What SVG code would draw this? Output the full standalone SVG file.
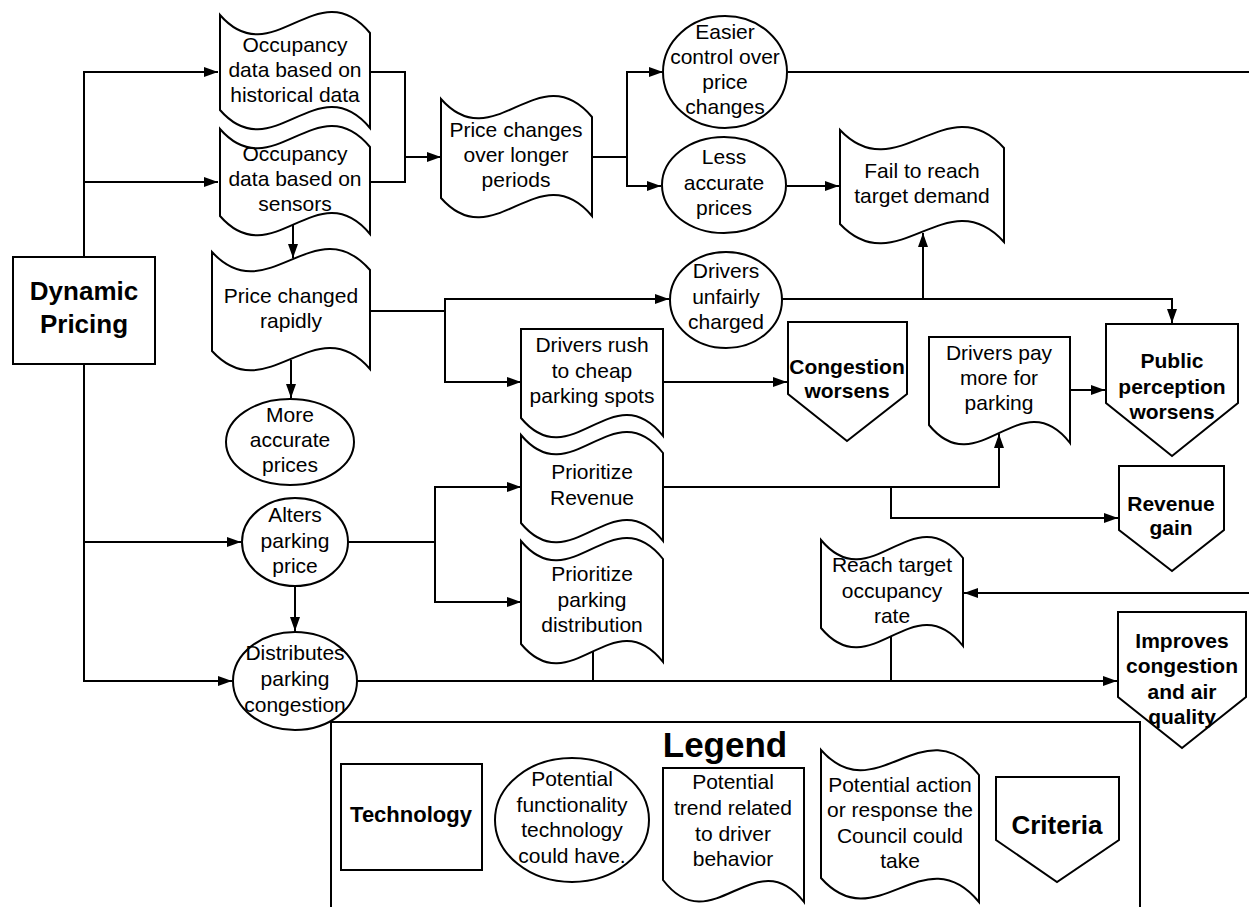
<svg xmlns="http://www.w3.org/2000/svg" width="1249" height="907" viewBox="0 0 1249 907">
  <style>
    .shape { fill: #ffffff; stroke: #000000; stroke-width: 2; }
    .wire { fill: none; stroke: #000000; stroke-width: 2; }
    .arrow { marker-end: url(#head); }
    text { font-family: "Liberation Sans", Arial, sans-serif; font-size: 21px; fill: #000000; text-anchor: middle; }
    .b { font-weight: bold; }
  </style>
  <defs>
    <marker id="head" markerUnits="userSpaceOnUse" markerWidth="14" markerHeight="10" refX="14" refY="5" orient="auto">
      <path d="M0,0 L14,5 L0,10 z" fill="#000000"/>
    </marker>
  </defs>
  <rect width="1249" height="907" fill="#ffffff"/>

  <!-- connectors -->
  <g id="connectors">
    <path class="wire arrow" d="M84,257 L84,72 L218,72"/>
    <path class="wire arrow" d="M84,182 L218,182"/>
    <path class="wire arrow" d="M84,364 L84,681 L232,681"/>
    <path class="wire arrow" d="M84,542 L241,542"/>
    <path class="wire" d="M370,72 L405,72 L405,182 L370,182"/>
    <path class="wire arrow" d="M405,157 L441,157"/>
    <path class="wire arrow" d="M293,224 L293,258"/>
    <path class="wire arrow" d="M592,157 L627,157 L627,72 L663,72"/>
    <path class="wire arrow" d="M627,157 L627,186 L661,186"/>
    <path class="wire" d="M788,72 L1249,72"/>
    <path class="wire arrow" d="M787,186 L839,186"/>
    <path class="wire" d="M370,311 L445,311"/>
    <path class="wire arrow" d="M445,311 L445,299 L669,299"/>
    <path class="wire arrow" d="M445,311 L445,382 L521,382"/>
    <path class="wire arrow" d="M291,360 L291,398"/>
    <path class="wire arrow" d="M782,299 L1172,299 L1172,323"/>
    <path class="wire arrow" d="M923,299 L923,233"/>
    <path class="wire arrow" d="M663,382 L787,382"/>
    <path class="wire arrow" d="M1070,390 L1105,390"/>
    <path class="wire arrow" d="M663,487 L999,487 L999,434"/>
    <path class="wire arrow" d="M891,487 L891,518 L1118,518"/>
    <path class="wire arrow" d="M295,586 L295,631"/>
    <path class="wire" d="M348,542 L435,542"/>
    <path class="wire arrow" d="M435,542 L435,487 L521,487"/>
    <path class="wire arrow" d="M435,542 L435,602 L521,602"/>
    <path class="wire arrow" d="M357,681 L1117,681"/>
    <path class="wire" d="M593,650 L593,681"/>
    <path class="wire" d="M891,634 L891,681"/>
    <path class="wire arrow" d="M1249,593 L964,593"/>
  </g>

  <!-- technology -->
  <g id="dynamic-pricing">
    <rect class="shape" x="13" y="257" width="142" height="107"/>
    <text class="b" x="84" y="300" style="font-size:26px">Dynamic</text>
    <text class="b" x="84" y="333" style="font-size:26px">Pricing</text>
  </g>

  <!-- council actions (tape shapes) -->
  <g id="occupancy-historical">
    <path class="shape" d="M220,15 C272.5,75 317.5,-30 370,33 L370,128 C317.5,65 272.5,170 220,110 Z"/>
    <text x="295" y="52">Occupancy</text>
    <text x="295" y="77">data based on</text>
    <text x="295" y="102">historical data</text>
  </g>
  <g id="occupancy-sensors">
    <path class="shape" d="M220,129 C272.5,189 317.5,84 370,147 L370,234 C317.5,171 272.5,276 220,216 Z"/>
    <text x="295" y="161">Occupancy</text>
    <text x="295" y="186">data based on</text>
    <text x="295" y="211">sensors</text>
  </g>
  <g id="price-longer">
    <path class="shape" d="M441,99 C494,159 539,54 592,117 L592,216 C539,153 494,258 441,198 Z"/>
    <text x="516" y="137">Price changes</text>
    <text x="516" y="162">over longer</text>
    <text x="516" y="187">periods</text>
  </g>
  <g id="price-rapidly">
    <path class="shape" d="M212,252 C267,312 315,207 370,270 L370,369 C315,306 267,411 212,351 Z"/>
    <text x="291" y="303">Price changed</text>
    <text x="291" y="328">rapidly</text>
  </g>
  <g id="prioritize-revenue">
    <path class="shape" d="M521,435 C571,495 613,390 663,453 L663,541 C613,478 571,583 521,523 Z"/>
    <text x="592" y="479">Prioritize</text>
    <text x="592" y="505">Revenue</text>
  </g>
  <g id="prioritize-distribution">
    <path class="shape" d="M521,541 C571,601 613,496 663,559 L663,662 C613,599 571,704 521,644 Z"/>
    <text x="592" y="581">Prioritize</text>
    <text x="592" y="607">parking</text>
    <text x="592" y="632">distribution</text>
  </g>
  <g id="reach-target">
    <path class="shape" d="M821,540 C871,600 913,495 963,558 L963,646 C913,583 871,688 821,628 Z"/>
    <text x="892" y="572">Reach target</text>
    <text x="892" y="598">occupancy</text>
    <text x="892" y="623">rate</text>
  </g>

  <!-- functionality (ellipses) -->
  <g id="easier-control">
    <ellipse class="shape" cx="725" cy="72" rx="62" ry="56"/>
    <text x="725" y="39">Easier</text>
    <text x="725" y="64">control over</text>
    <text x="725" y="89">price</text>
    <text x="725" y="114">changes</text>
  </g>
  <g id="less-accurate">
    <ellipse class="shape" cx="724" cy="185" rx="62" ry="48"/>
    <text x="724" y="164">Less</text>
    <text x="724" y="190">accurate</text>
    <text x="724" y="215">prices</text>
  </g>
  <g id="more-accurate">
    <ellipse class="shape" cx="290" cy="442" rx="64" ry="43"/>
    <text x="290" y="422">More</text>
    <text x="290" y="447">accurate</text>
    <text x="290" y="472">prices</text>
  </g>
  <g id="drivers-unfairly">
    <ellipse class="shape" cx="726" cy="300" rx="56" ry="48"/>
    <text x="726" y="278">Drivers</text>
    <text x="726" y="304">unfairly</text>
    <text x="726" y="329">charged</text>
  </g>
  <g id="alters-price">
    <ellipse class="shape" cx="295" cy="542" rx="53" ry="44"/>
    <text x="295" y="522">Alters</text>
    <text x="295" y="548">parking</text>
    <text x="295" y="573">price</text>
  </g>
  <g id="distributes-congestion">
    <ellipse class="shape" cx="295" cy="681" rx="62" ry="49"/>
    <text x="295" y="660">Distributes</text>
    <text x="295" y="686">parking</text>
    <text x="295" y="712">congestion</text>
  </g>

  <!-- driver trends (document shapes) -->
  <g id="fail-target">
    <path class="shape" d="M840,130 C897,190 947,85 1004,148 L1004,242 C947,179 897,284 840,224 Z"/>
    <text x="922" y="178">Fail to reach</text>
    <text x="922" y="203">target demand</text>
  </g>
  <g id="drivers-rush">
    <path class="shape" d="M521,329 L663,329 L663,436 C613,373 571,478 521,418 Z"/>
    <text x="592" y="352">Drivers rush</text>
    <text x="592" y="378">to cheap</text>
    <text x="592" y="403">parking spots</text>
  </g>
  <g id="drivers-pay">
    <path class="shape" d="M929,337 L1070,337 L1070,443 C1021,380 978,485 929,425 Z"/>
    <text x="999" y="360">Drivers pay</text>
    <text x="999" y="385">more for</text>
    <text x="999" y="410">parking</text>
  </g>

  <!-- criteria (pentagons) -->
  <g id="congestion-worsens">
    <path class="shape" d="M788,322 L907,322 L907,394 L847,441 L788,394 Z"/>
    <text class="b" x="847" y="374">Congestion</text>
    <text class="b" x="847" y="398">worsens</text>
  </g>
  <g id="public-perception">
    <path class="shape" d="M1106,324 L1238,324 L1238,403 L1172,456 L1106,403 Z"/>
    <text class="b" x="1172" y="368">Public</text>
    <text class="b" x="1172" y="394">perception</text>
    <text class="b" x="1172" y="419">worsens</text>
  </g>
  <g id="revenue-gain">
    <path class="shape" d="M1119,466 L1224,466 L1224,530 L1172,571 L1119,530 Z"/>
    <text class="b" x="1171" y="511">Revenue</text>
    <text class="b" x="1171" y="535">gain</text>
  </g>
  <g id="improves-congestion">
    <path class="shape" d="M1118,612 L1246,612 L1246,697 L1182,748 L1118,697 Z"/>
    <text class="b" x="1182" y="648">Improves</text>
    <text class="b" x="1182" y="673">congestion</text>
    <text class="b" x="1182" y="699">and air</text>
    <text class="b" x="1182" y="724">quality</text>
  </g>

  <!-- legend -->
  <g id="legend">
    <rect class="shape" x="331" y="722" width="809" height="200"/>
    <text class="b" x="725" y="757" style="font-size:35px">Legend</text>
    <rect class="shape" x="341" y="764" width="141" height="106"/>
    <text class="b" x="411" y="822" style="font-size:22px">Technology</text>
    <ellipse class="shape" cx="572" cy="820" rx="77" ry="62"/>
    <text x="572" y="786">Potential</text>
    <text x="572" y="812">functionality</text>
    <text x="572" y="837">technology</text>
    <text x="572" y="863">could have.</text>
    <path class="shape" d="M663,768 L804,768 L804,902 C755,839 712,944 663,880 Z"/>
    <text x="733" y="789">Potential</text>
    <text x="733" y="815">trend related</text>
    <text x="733" y="841">to driver</text>
    <text x="733" y="866">behavior</text>
    <path class="shape" d="M821,750 C876,812 924,705 979,775 L979,902 C924,835 876,940 821,878 Z"/>
    <text x="900" y="792">Potential action</text>
    <text x="900" y="817">or response the</text>
    <text x="900" y="843">Council could</text>
    <text x="900" y="868">take</text>
    <path class="shape" d="M996,777 L1119,777 L1119,840 L1057,882 L996,840 Z"/>
    <text class="b" x="1057" y="834" style="font-size:26px">Criteria</text>
  </g>
</svg>
